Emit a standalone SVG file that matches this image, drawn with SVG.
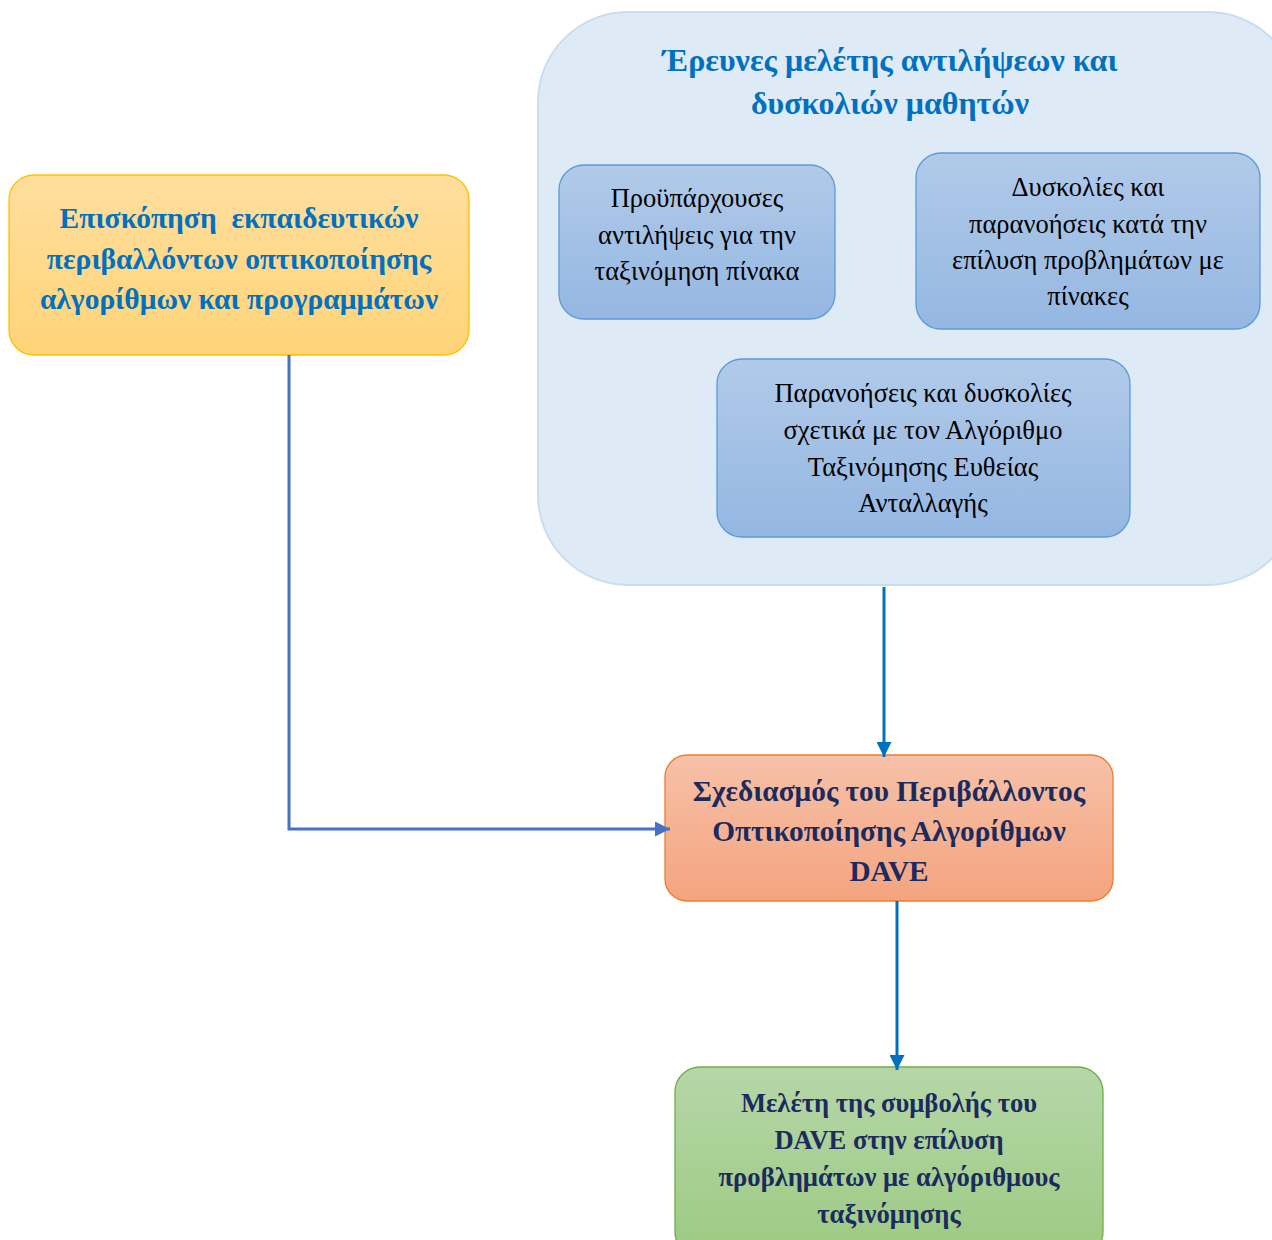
<svg xmlns="http://www.w3.org/2000/svg" width="1272" height="1240" viewBox="0 0 1272 1240">
<defs>
<linearGradient id="gY" x1="0" y1="0" x2="0" y2="1"><stop offset="0" stop-color="#FFDE9E"/><stop offset="1" stop-color="#FFD478"/></linearGradient>
<linearGradient id="gB" x1="0" y1="0" x2="0" y2="1"><stop offset="0" stop-color="#B1CAE9"/><stop offset="1" stop-color="#94B7E2"/></linearGradient>
<linearGradient id="gO" x1="0" y1="0" x2="0" y2="1"><stop offset="0" stop-color="#F6C1A8"/><stop offset="1" stop-color="#F4A47F"/></linearGradient>
<linearGradient id="gG" x1="0" y1="0" x2="0" y2="1"><stop offset="0" stop-color="#B6D6A8"/><stop offset="1" stop-color="#9CCA82"/></linearGradient>
<marker id="ahB" viewBox="0 0 10 10" refX="10" refY="5" markerWidth="5" markerHeight="5" orient="auto" markerUnits="strokeWidth"><path d="M0,0 L10,5 L0,10 z" fill="#0070C0"/></marker>
<marker id="ahL" viewBox="0 0 10 10" refX="10" refY="5" markerWidth="5" markerHeight="5" orient="auto" markerUnits="strokeWidth"><path d="M0,0 L10,5 L0,10 z" fill="#4472C4"/></marker>
</defs>
<style>
text{font-family:"Liberation Serif","DejaVu Serif",serif;text-anchor:middle}
.bold{font-weight:bold}
.blue{fill:#0070C0}
.navy{fill:#1B2B5E}
.reg{fill:#000;font-size:26.5px}
.sub{fill:url(#gB);stroke:#5B9BD5;stroke-width:1.3}
.conn{fill:none;stroke-width:3}
</style>
<rect width="1272" height="1240" fill="#fff"/>
<g id="container">
<rect x="538" y="12" width="760" height="573" rx="90" fill="#DEEAF6" stroke="#CADDF0" stroke-width="2"/>
<text class="bold blue" font-size="32" x="890" y="71">Έρευνες μελέτης αντιλήψεων και</text>
<text class="bold blue" font-size="32" x="890" y="114">δυσκολιών μαθητών</text>
</g>
<g id="nodeA">
<rect class="sub" x="559" y="165" width="276" height="154" rx="25"/>
<text class="reg" x="697" y="207">Προϋπάρχουσες</text>
<text class="reg" x="697" y="244">αντιλήψεις για την</text>
<text class="reg" x="697" y="280">ταξινόμηση πίνακα</text>
</g>
<g id="nodeB">
<rect class="sub" x="916" y="153" width="344" height="176" rx="25"/>
<text class="reg" x="1088" y="196">Δυσκολίες και</text>
<text class="reg" x="1088" y="233">παρανοήσεις κατά την</text>
<text class="reg" x="1088" y="269">επίλυση προβλημάτων με</text>
<text class="reg" x="1088" y="305">πίνακες</text>
</g>
<g id="nodeC">
<rect class="sub" x="717" y="359" width="413" height="178" rx="25"/>
<text class="reg" x="923" y="402">Παρανοήσεις και δυσκολίες</text>
<text class="reg" x="923" y="439">σχετικά με τον Αλγόριθμο</text>
<text class="reg" x="923" y="476">Ταξινόμησης Ευθείας</text>
<text class="reg" x="923" y="512">Ανταλλαγής</text>
</g>
<g id="nodeLeft">
<rect x="9" y="175" width="460" height="180" rx="25" fill="url(#gY)" stroke="#FFC000" stroke-width="1.3"/>
<text class="bold blue" font-size="29.5" x="239" y="228" style="white-space:pre">Επισκόπηση  εκπαιδευτικών</text>
<text class="bold blue" font-size="29.5" x="239" y="269">περιβαλλόντων οπτικοποίησης</text>
<text class="bold blue" font-size="29.5" x="239" y="309">αλγορίθμων και προγραμμάτων</text>
</g>
<g id="nodeDesign">
<rect x="665" y="755" width="448" height="146" rx="22" fill="url(#gO)" stroke="#ED7D31" stroke-width="1.3"/>
<text class="bold navy" font-size="29.3" x="889" y="801">Σχεδιασμός του Περιβάλλοντος</text>
<text class="bold navy" font-size="29.3" x="889" y="841">Οπτικοποίησης Αλγορίθμων</text>
<text class="bold navy" font-size="29.3" x="889" y="881">DAVE</text>
</g>
<g id="nodeStudy">
<rect x="675" y="1067" width="428" height="190" rx="25" fill="url(#gG)" stroke="#70AD47" stroke-width="1.3"/>
<text class="bold navy" font-size="26.6" x="889" y="1112">Μελέτη της συμβολής του</text>
<text class="bold navy" font-size="26.6" x="889" y="1149">DAVE στην επίλυση</text>
<text class="bold navy" font-size="26.6" x="889" y="1186">προβλημάτων με αλγόριθμους</text>
<text class="bold navy" font-size="26.6" x="889" y="1223">ταξινόμησης</text>
</g>
<g id="connectors">
<path class="conn" d="M289,355 V829 H670" stroke="#4472C4" marker-end="url(#ahL)"/>
<path class="conn" d="M884,587 V757" stroke="#0070C0" marker-end="url(#ahB)"/>
<path class="conn" d="M897,901 V1070" stroke="#0070C0" marker-end="url(#ahB)"/>
</g>
</svg>
